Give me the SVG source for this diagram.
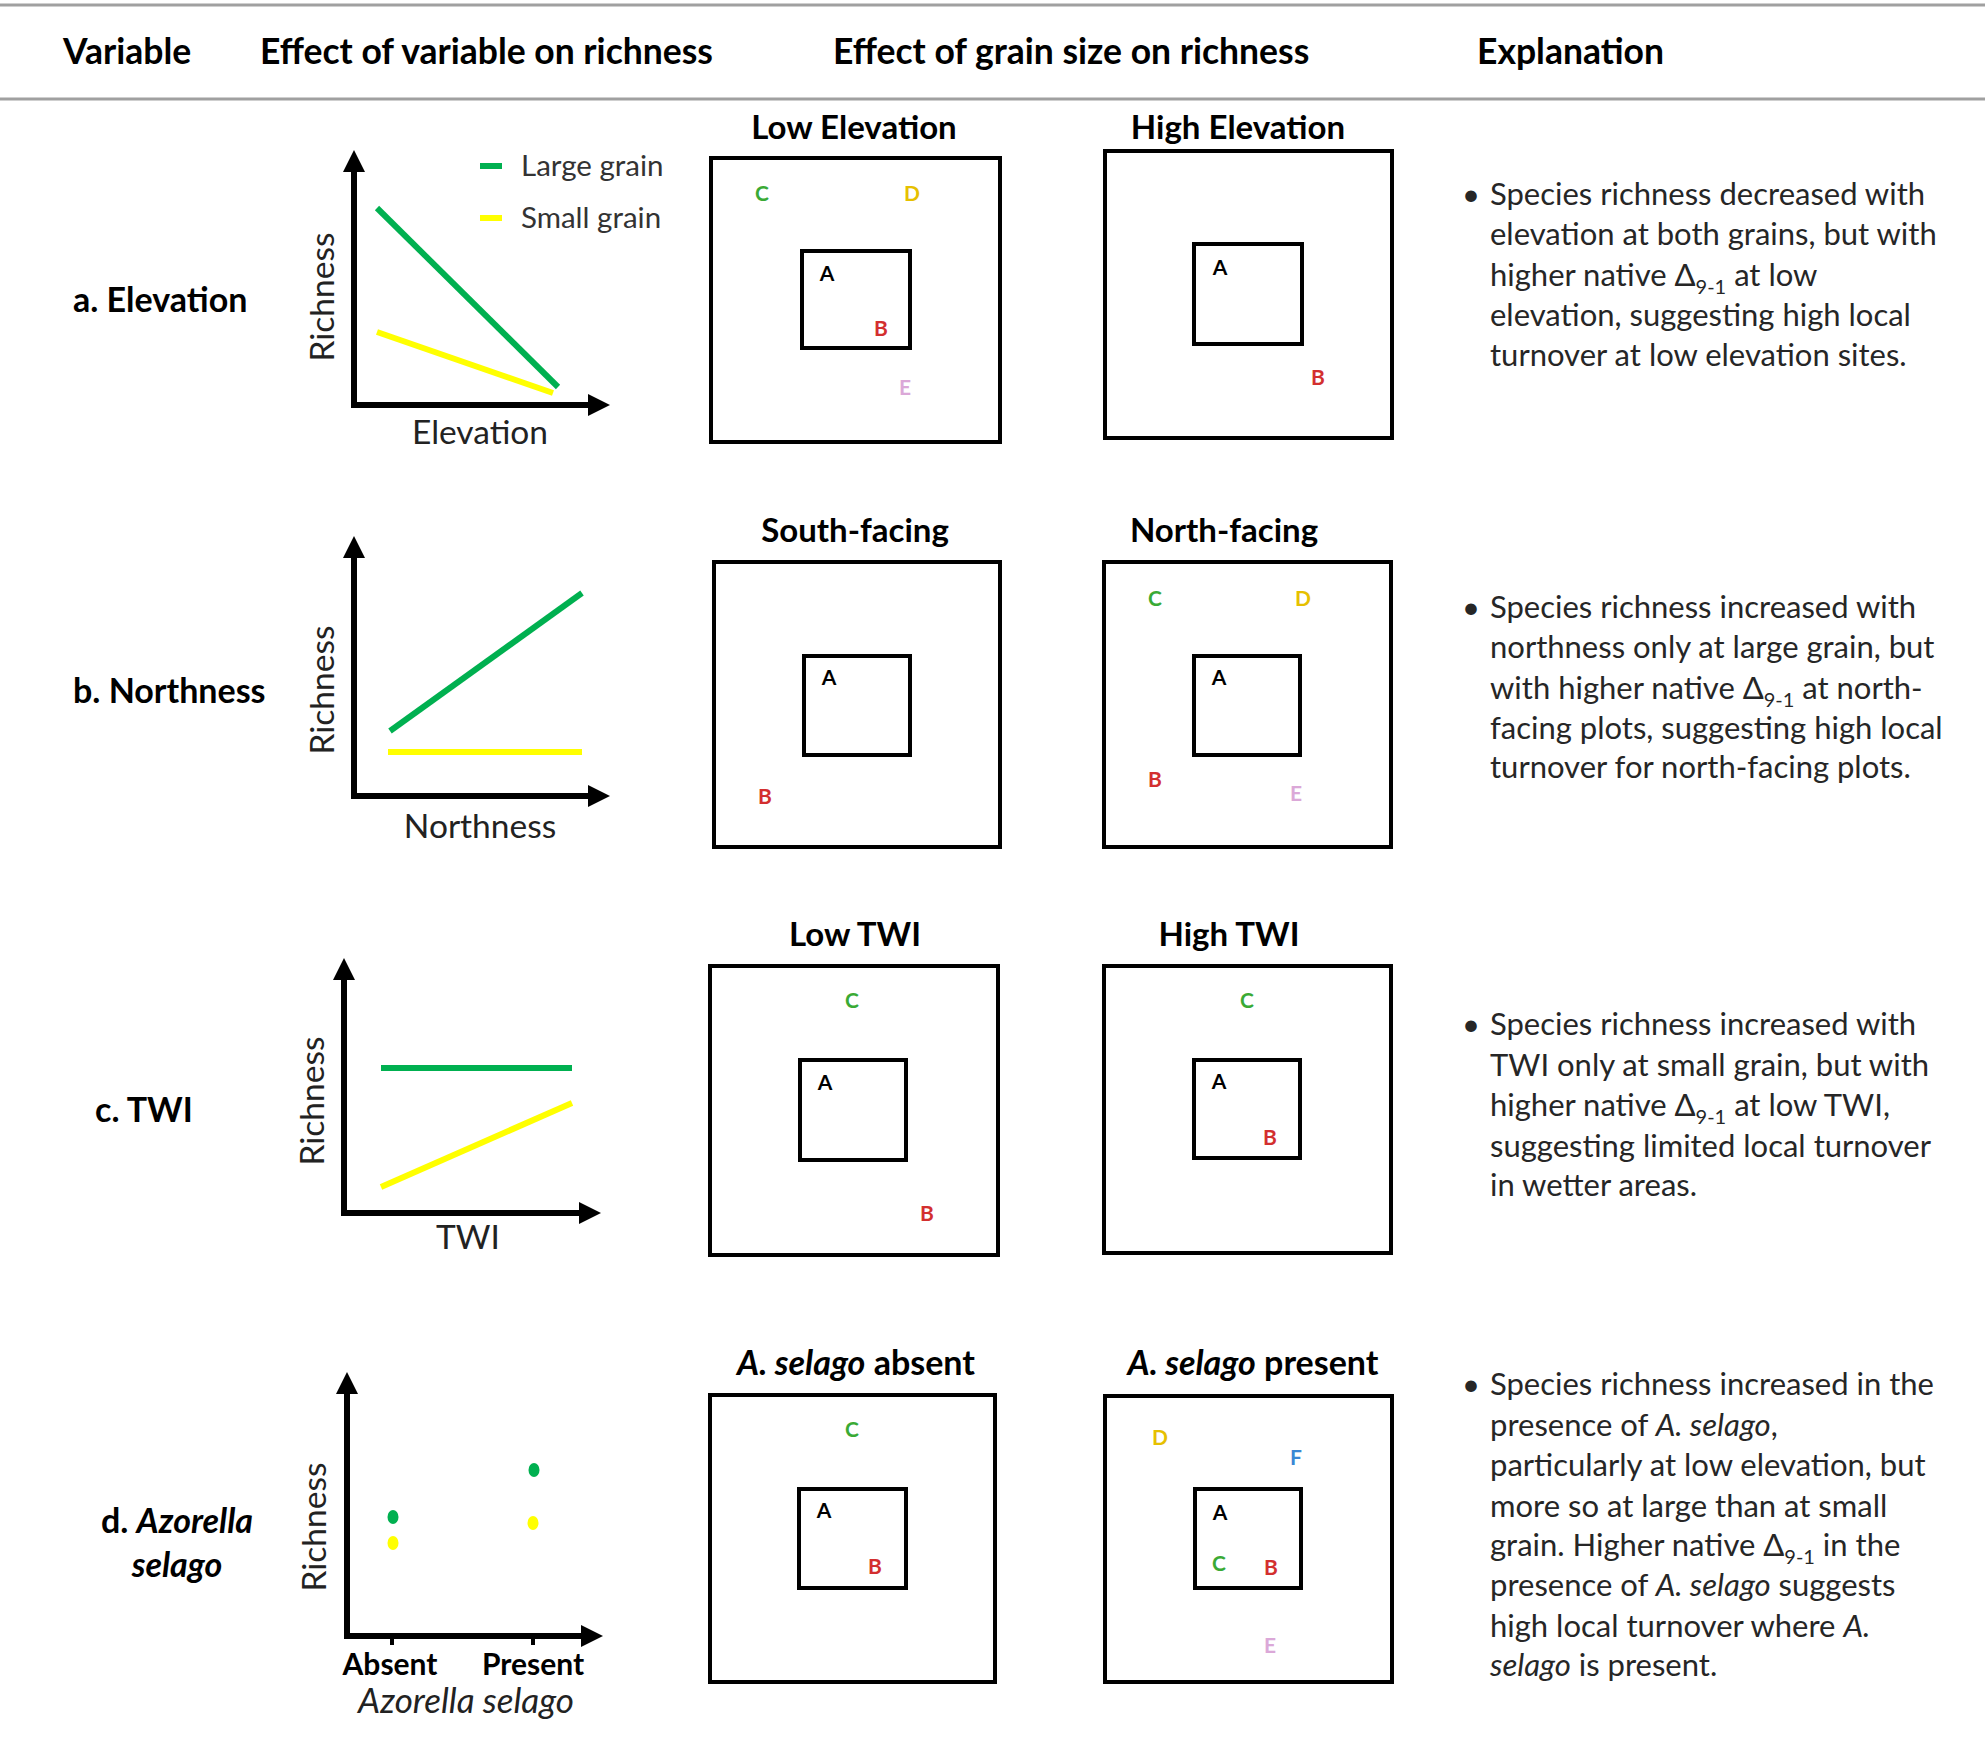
<svg xmlns="http://www.w3.org/2000/svg" width="1985" height="1748" viewBox="0 0 1985 1748">
<defs>
<marker id="arr" markerUnits="userSpaceOnUse" markerWidth="24" markerHeight="22" refX="2" refY="11" orient="auto">
<path d="M0,0 L22,11 L0,22 Z" fill="#000"/>
</marker>
<style>
text{font-family:Lato,"Liberation Sans",sans-serif}
.hdr{font-size:35.5px;font-weight:bold;fill:#000}
.var{font-size:34px;font-weight:bold;fill:#000}
.ttl{font-size:33px;font-weight:bold;fill:#000}
.ax{font-size:33.5px;fill:#222}
.leg{font-size:29.5px;fill:#333}
.exp{font-size:31px;fill:#262626}
.sub{font-size:20px}
.lt{font-size:21px;font-weight:bold;text-anchor:middle}
.axis{stroke:#000;stroke-width:6;fill:none;marker-end:url(#arr)}
.box{fill:none;stroke:#000;stroke-width:4}
.g{stroke:#00b050;stroke-width:6;fill:none}
.y{stroke:#ffff00;stroke-width:6;fill:none}
.cA{fill:#000}.cB{fill:#d32f2f}.cC{fill:#3aaa35}.cD{fill:#e6c000}.cE{fill:#dba8d8}.cF{fill:#3a87d4}
</style>
</defs>
<rect width="1985" height="1748" fill="#fff"/>
<g id="header">
<line x1="0" y1="5" x2="1985" y2="5" stroke="#a0a0a0" stroke-width="3"/>
<line x1="0" y1="99" x2="1985" y2="99" stroke="#a0a0a0" stroke-width="3"/>
<text class="hdr" x="63" y="64">Variable</text>
<text class="hdr" x="260" y="64">Effect of variable on richness</text>
<text class="hdr" x="833" y="64">Effect of grain size on richness</text>
<text class="hdr" x="1477" y="64">Explanation</text>
</g>

<g id="row-a">
<text class="var" x="73" y="312">a. Elevation</text>
<g id="graph-a">
<line class="axis" x1="354" y1="405" x2="354" y2="170"/>
<line class="axis" x1="351" y1="405" x2="590" y2="405"/>
<line class="g" x1="377" y1="208" x2="558" y2="387"/>
<line class="y" x1="377" y1="332" x2="553" y2="393"/>
<line class="g" x1="480" y1="166" x2="502" y2="166"/>
<text class="leg" x="521" y="176">Large grain</text>
<line class="y" x1="480" y1="218" x2="502" y2="218"/>
<text class="leg" x="521" y="228">Small grain</text>
<text class="ax" transform="translate(334,297) rotate(-90)" text-anchor="middle">Richness</text>
<text class="ax" x="480" y="444" text-anchor="middle">Elevation</text>
</g>
<g id="low-elevation">
<text class="ttl" x="854" y="139" text-anchor="middle">Low Elevation</text>
<rect class="box" x="711" y="158" width="289" height="284"/>
<rect class="box" x="802" y="251" width="108" height="97"/>
<text class="lt cC" x="762" y="201">C</text>
<text class="lt cD" x="912" y="201">D</text>
<text class="lt cA" x="827" y="281">A</text>
<text class="lt cB" x="881" y="336">B</text>
<text class="lt cE" x="905" y="395">E</text>
</g>
<g id="high-elevation">
<text class="ttl" x="1238" y="139" text-anchor="middle">High Elevation</text>
<rect class="box" x="1105" y="151" width="287" height="287"/>
<rect class="box" x="1194" y="244" width="108" height="100"/>
<text class="lt cA" x="1220" y="275">A</text>
<text class="lt cB" x="1318" y="385">B</text>
</g>
<g id="explain-a">
<text class="exp" x="1462" y="205">•</text>
<text class="exp" x="1490" y="205">Species richness decreased with</text>
<text class="exp" x="1490" y="245">elevation at both grains, but with</text>
<text class="exp" x="1490" y="286">higher native Δ<tspan class="sub" dy="8">9-1</tspan><tspan dy="-8"> at low</tspan></text>
<text class="exp" x="1490" y="326">elevation, suggesting high local</text>
<text class="exp" x="1490" y="366">turnover at low elevation sites.</text>
</g>
</g>

<g id="row-b">
<text class="var" x="73" y="703">b. Northness</text>
<g id="graph-b">
<line class="axis" x1="354" y1="796" x2="354" y2="556"/>
<line class="axis" x1="351" y1="796" x2="590" y2="796"/>
<line class="g" x1="390" y1="731" x2="582" y2="593"/>
<line class="y" x1="388" y1="752" x2="582" y2="752"/>
<text class="ax" transform="translate(334,690) rotate(-90)" text-anchor="middle">Richness</text>
<text class="ax" x="480" y="838" text-anchor="middle">Northness</text>
</g>
<g id="south-facing">
<text class="ttl" x="855" y="542" text-anchor="middle">South-facing</text>
<rect class="box" x="714" y="562" width="286" height="285"/>
<rect class="box" x="804" y="656" width="106" height="99"/>
<text class="lt cA" x="829" y="685">A</text>
<text class="lt cB" x="765" y="804">B</text>
</g>
<g id="north-facing">
<text class="ttl" x="1224" y="542" text-anchor="middle">North-facing</text>
<rect class="box" x="1104" y="562" width="287" height="285"/>
<rect class="box" x="1194" y="656" width="106" height="99"/>
<text class="lt cC" x="1155" y="606">C</text>
<text class="lt cD" x="1303" y="606">D</text>
<text class="lt cA" x="1219" y="685">A</text>
<text class="lt cB" x="1155" y="787">B</text>
<text class="lt cE" x="1296" y="801">E</text>
</g>
<g id="explain-b">
<text class="exp" x="1462" y="618">•</text>
<text class="exp" x="1490" y="618">Species richness increased with</text>
<text class="exp" x="1490" y="658">northness only at large grain, but</text>
<text class="exp" x="1490" y="699">with higher native Δ<tspan class="sub" dy="8">9-1</tspan><tspan dy="-8"> at north-</tspan></text>
<text class="exp" x="1490" y="739">facing plots, suggesting high local</text>
<text class="exp" x="1490" y="778">turnover for north-facing plots.</text>
</g>
</g>

<g id="row-c">
<text class="var" x="95" y="1122">c. TWI</text>
<g id="graph-c">
<line class="axis" x1="344" y1="1213" x2="344" y2="978"/>
<line class="axis" x1="341" y1="1213" x2="581" y2="1213"/>
<line class="g" x1="381" y1="1068" x2="572" y2="1068"/>
<line class="y" x1="381" y1="1187" x2="572" y2="1103"/>
<text class="ax" transform="translate(324,1101) rotate(-90)" text-anchor="middle">Richness</text>
<text class="ax" x="468" y="1249" text-anchor="middle">TWI</text>
</g>
<g id="low-twi">
<text class="ttl" x="855" y="946" text-anchor="middle">Low TWI</text>
<rect class="box" x="710" y="966" width="288" height="289"/>
<rect class="box" x="800" y="1060" width="106" height="100"/>
<text class="lt cC" x="852" y="1008">C</text>
<text class="lt cA" x="825" y="1090">A</text>
<text class="lt cB" x="927" y="1221">B</text>
</g>
<g id="high-twi">
<text class="ttl" x="1229" y="946" text-anchor="middle">High TWI</text>
<rect class="box" x="1104" y="966" width="287" height="287"/>
<rect class="box" x="1194" y="1060" width="106" height="98"/>
<text class="lt cC" x="1247" y="1008">C</text>
<text class="lt cA" x="1219" y="1089">A</text>
<text class="lt cB" x="1270" y="1145">B</text>
</g>
<g id="explain-c">
<text class="exp" x="1462" y="1035">•</text>
<text class="exp" x="1490" y="1035">Species richness increased with</text>
<text class="exp" x="1490" y="1076">TWI only at small grain, but with</text>
<text class="exp" x="1490" y="1116">higher native Δ<tspan class="sub" dy="8">9-1</tspan><tspan dy="-8"> at low TWI,</tspan></text>
<text class="exp" x="1490" y="1157">suggesting limited local turnover</text>
<text class="exp" x="1490" y="1196">in wetter areas.</text>
</g>
</g>

<g id="row-d">
<text class="var" x="177" y="1533" text-anchor="middle">d. <tspan font-style="italic">Azorella</tspan></text>
<text class="var" x="177" y="1577" text-anchor="middle" font-style="italic">selago</text>
<g id="graph-d">
<line class="axis" x1="347" y1="1636" x2="347" y2="1392"/>
<line class="axis" x1="344" y1="1636" x2="583" y2="1636"/>
<line x1="392" y1="1636" x2="392" y2="1645" stroke="#000" stroke-width="4"/>
<line x1="533" y1="1636" x2="533" y2="1645" stroke="#000" stroke-width="4"/>
<ellipse cx="393" cy="1517" rx="5.5" ry="7" fill="#00b050"/>
<ellipse cx="393" cy="1543" rx="5.5" ry="7" fill="#ffff00"/>
<ellipse cx="534" cy="1470" rx="5.5" ry="7" fill="#00b050"/>
<ellipse cx="533" cy="1523" rx="5.5" ry="7" fill="#ffff00"/>
<text class="ax" transform="translate(326,1527) rotate(-90)" text-anchor="middle">Richness</text>
<text x="390" y="1675" text-anchor="middle" style="font-size:30px;font-weight:bold;fill:#000">Absent</text>
<text x="533" y="1675" text-anchor="middle" style="font-size:30px;font-weight:bold;fill:#000">Present</text>
<text x="466" y="1713" text-anchor="middle" style="font-size:35px;font-style:italic;fill:#222">Azorella selago</text>
</g>
<g id="selago-absent">
<text class="ttl" x="856" y="1375" text-anchor="middle" style="font-size:34px"><tspan font-style="italic">A. selago</tspan> absent</text>
<rect class="box" x="710" y="1395" width="285" height="287"/>
<rect class="box" x="799" y="1489" width="107" height="99"/>
<text class="lt cC" x="852" y="1437">C</text>
<text class="lt cA" x="824" y="1518">A</text>
<text class="lt cB" x="875" y="1574">B</text>
</g>
<g id="selago-present">
<text class="ttl" x="1253" y="1375" text-anchor="middle" style="font-size:34px"><tspan font-style="italic">A. selago</tspan> present</text>
<rect class="box" x="1105" y="1396" width="287" height="286"/>
<rect class="box" x="1195" y="1489" width="106" height="99"/>
<text class="lt cD" x="1160" y="1445">D</text>
<text class="lt cF" x="1296" y="1465">F</text>
<text class="lt cA" x="1220" y="1520">A</text>
<text class="lt cC" x="1219" y="1571">C</text>
<text class="lt cB" x="1271" y="1575">B</text>
<text class="lt cE" x="1270" y="1653">E</text>
</g>
<g id="explain-d">
<text class="exp" x="1462" y="1395">•</text>
<text class="exp" x="1490" y="1395">Species richness increased in the</text>
<text class="exp" x="1490" y="1436">presence of <tspan font-style="italic">A. selago</tspan>,</text>
<text class="exp" x="1490" y="1476">particularly at low elevation, but</text>
<text class="exp" x="1490" y="1517">more so at large than at small</text>
<text class="exp" x="1490" y="1556">grain. Higher native Δ<tspan class="sub" dy="8">9-1</tspan><tspan dy="-8"> in the</tspan></text>
<text class="exp" x="1490" y="1596">presence of <tspan font-style="italic">A. selago</tspan> suggests</text>
<text class="exp" x="1490" y="1637">high local turnover where <tspan font-style="italic">A.</tspan></text>
<text class="exp" x="1490" y="1676"><tspan font-style="italic">selago</tspan> is present.</text>
</g>
</g>
</svg>
